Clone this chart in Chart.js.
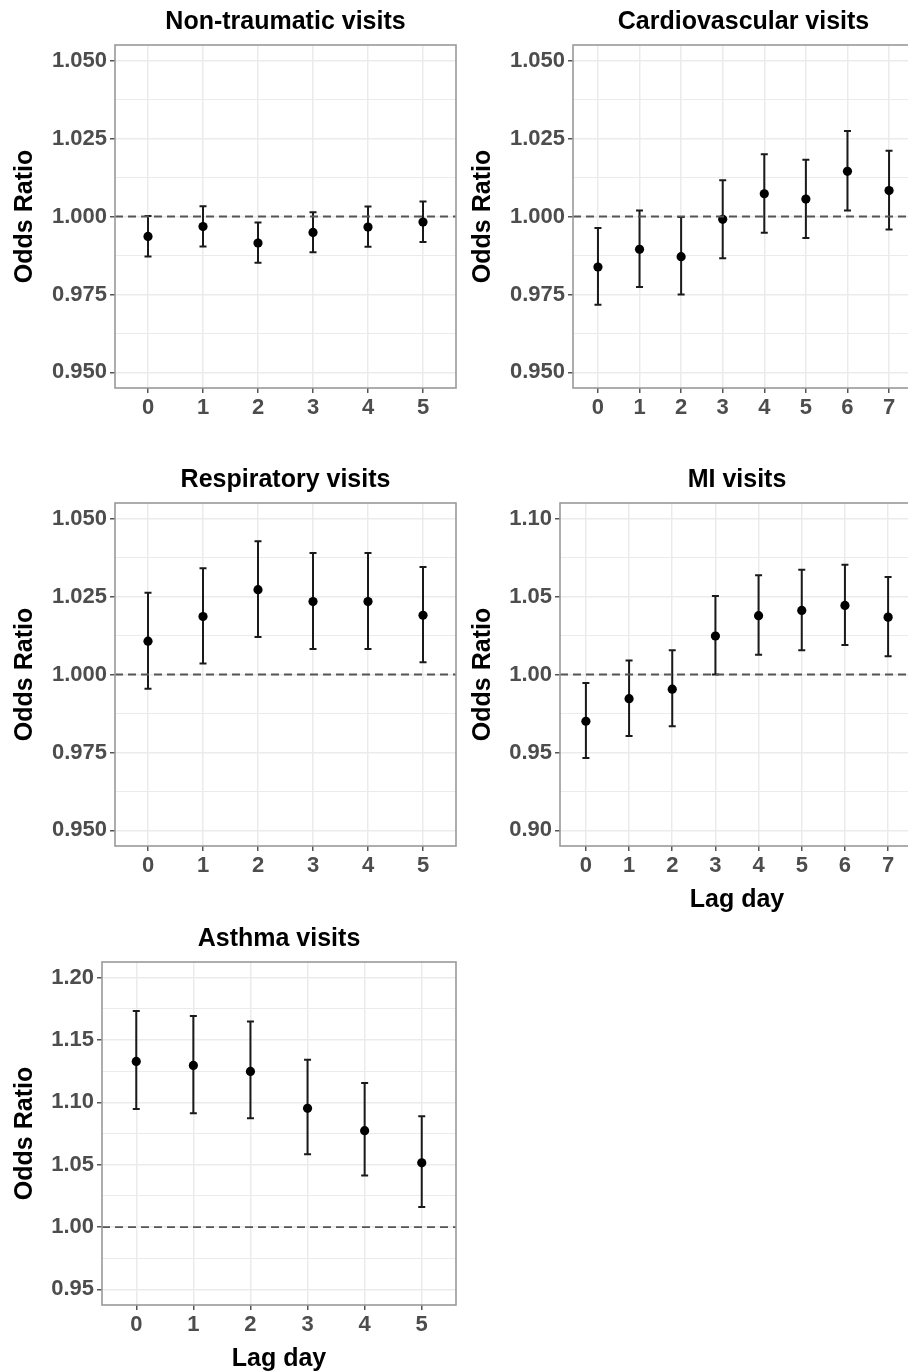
<!DOCTYPE html>
<html lang="en">
<head>
<meta charset="UTF-8">
<title>Odds ratios by lag day</title>
<style>
  body { margin: 0; padding: 0; background: #fff; overflow: hidden; }
  #wrap { position: relative; width: 908px; height: 1371px; overflow: hidden; }
  #wrap canvas { position: absolute; }
</style>
</head>
<body>
<div id="wrap">
  <canvas id="nonTrauma" width="458" height="458" style="left:0;top:0"></canvas>
  <canvas id="cardio" width="458" height="458" style="left:458px;top:0"></canvas>
  <canvas id="resp" width="458" height="458" style="left:0;top:458px"></canvas>
  <canvas id="mi" width="458" height="458" style="left:458px;top:458px"></canvas>
  <canvas id="asthma" width="458" height="458" style="left:0;top:917px"></canvas>
</div>

<script src="https://cdn.jsdelivr.net/npm/chart.js"></script>
<script>
// lag days on the x axis
const lagDays6 = [0, 1, 2, 3, 4, 5];
const lagDays8 = [0, 1, 2, 3, 4, 5, 6, 7];

// odds ratio with 95% CI per outcome
const nonTraumaOR   = [0.9936, 0.9968, 0.9915, 0.9949, 0.9966, 0.9982];
const nonTraumaLow  = [0.9872, 0.9904, 0.9852, 0.9885, 0.9903, 0.9918];
const nonTraumaHigh = [1.0002, 1.0033, 0.9981, 1.0014, 1.0032, 1.0048];

const cardioOR   = [0.9838, 0.9895, 0.9871, 0.9991, 1.0073, 1.0056, 1.0145, 1.0083];
const cardioLow  = [0.9717, 0.9774, 0.9750, 0.9866, 0.9948, 0.9931, 1.0019, 0.9958];
const cardioHigh = [0.9963, 1.0019, 0.9998, 1.0116, 1.0200, 1.0182, 1.0274, 1.0211];

const respOR   = [1.0107, 1.0186, 1.0272, 1.0234, 1.0234, 1.0190];
const respLow  = [0.9954, 1.0035, 1.0120, 1.0082, 1.0082, 1.0039];
const respHigh = [1.0262, 1.0341, 1.0427, 1.0390, 1.0390, 1.0345];

const miOR   = [0.9700, 0.9845, 0.9906, 1.0247, 1.0377, 1.0411, 1.0443, 1.0368];
const miLow  = [0.9464, 0.9606, 0.9668, 1.0000, 1.0126, 1.0155, 1.0189, 1.0117];
const miHigh = [0.9945, 1.0089, 1.0155, 1.0504, 1.0636, 1.0672, 1.0704, 1.0626];

const asthmaOR   = [1.1328, 1.1296, 1.1248, 1.0952, 1.0773, 1.0515];
const asthmaLow  = [1.0947, 1.0912, 1.0872, 1.0584, 1.0413, 1.0160];
const asthmaHigh = [1.1733, 1.1693, 1.1648, 1.1341, 1.1155, 1.0888];

// y axis breaks (labelled) and minor grid lines
const smallMajor = [0.950, 0.975, 1.000, 1.025, 1.050];
const smallMinor = [0.9625, 0.9875, 1.0125, 1.0375];
const miMajor = [0.90, 0.95, 1.00, 1.05, 1.10];
const miMinor = [0.925, 0.975, 1.025, 1.075];
const asthmaMajor = [0.95, 1.00, 1.05, 1.10, 1.15, 1.20];
const asthmaMinor = [0.975, 1.025, 1.075, 1.125, 1.175];

const nullOR = 1;

Chart.defaults.font.family = "'Liberation Sans', Arial, sans-serif";

// error bars + panel frame
const panelDecor = {
  id: 'panelDecor',
  beforeDatasetDraw(chart, args) {
    const ds = chart.data.datasets[args.index];
    if (!ds.lower) return;
    const { ctx, scales: { x, y } } = chart;
    ctx.save();
    ctx.strokeStyle = '#1a1a1a';
    ctx.lineWidth = 2;
    ds.data.forEach((pt, i) => {
      const px = x.getPixelForValue(pt.x);
      const top = y.getPixelForValue(ds.upper[i]);
      const bot = y.getPixelForValue(ds.lower[i]);
      ctx.beginPath();
      ctx.moveTo(px, top); ctx.lineTo(px, bot);
      ctx.moveTo(px - 3.5, top); ctx.lineTo(px + 3.5, top);
      ctx.moveTo(px - 3.5, bot); ctx.lineTo(px + 3.5, bot);
      ctx.stroke();
    });
    ctx.restore();
  },
  afterDraw(chart) {
    const { ctx, chartArea: a } = chart;
    ctx.save();
    ctx.strokeStyle = '#999';
    ctx.lineWidth = 1.6;
    ctx.strokeRect(a.left, a.top, a.right - a.left, a.bottom - a.top);
    ctx.restore();
  }
};

function makePanel(id, title, lags, or, low, high, yRange, majors, minors, decimals, yWidth, showXTitle) {
  const xMin = -0.6, xMax = lags.length - 1 + 0.6;
  const yTicks = majors.concat(minors).sort((a, b) => a - b);
  const isMajor = v => majors.some(m => Math.abs(m - v) < 1e-9);

  new Chart(document.getElementById(id), {
    type: 'scatter',
    data: {
      datasets: [
        {
          data: [{ x: xMin, y: nullOR }, { x: xMax, y: nullOR }],
          showLine: true,
          borderColor: '#555',
          borderWidth: 1.8,
          borderDash: [8, 5],
          pointRadius: 0
        },
        {
          data: lags.map((d, i) => ({ x: d, y: or[i] })),
          lower: low,
          upper: high,
          pointRadius: 4.6,
          backgroundColor: '#000',
          borderWidth: 0
        }
      ]
    },
    options: {
      responsive: false,
      animation: false,
      events: [],
      layout: { autoPadding: false, padding: { left: 0, right: 2, top: 0, bottom: 0 } },
      plugins: {
        legend: { display: false },
        tooltip: { enabled: false },
        title: {
          display: true,
          text: title,
          fullSize: false,
          color: '#000',
          font: { size: 25, weight: 'bold' },
          padding: { top: 7.5, bottom: 7.5 }
        }
      },
      scales: {
        x: {
          type: 'linear',
          min: xMin,
          max: xMax,
          afterBuildTicks: s => { s.ticks = lags.map(v => ({ value: v })); },
          afterFit: s => { s.height = 70; s.paddingLeft = 0; s.paddingRight = 0; },
          ticks: {
            autoSkip: false,
            maxRotation: 0,
            padding: 2,
            color: '#4d4d4d',
            font: { size: 22, weight: 'bold' },
            callback: v => String(v)
          },
          grid: { color: '#ebebeb', lineWidth: 1.5, tickLength: 5, tickColor: '#555', tickWidth: 1.5 },
          border: { display: false },
          title: {
            display: showXTitle,
            text: 'Lag day',
            color: '#000',
            font: { size: 25, weight: 'bold' },
            padding: { top: 0, bottom: 1 }
          }
        },
        y: {
          type: 'linear',
          min: yRange[0],
          max: yRange[1],
          afterBuildTicks: s => { s.ticks = yTicks.map(v => ({ value: v })); },
          afterFit: s => { s.width = yWidth; s.paddingTop = 0; s.paddingBottom = 0; },
          ticks: {
            padding: 3,
            color: '#4d4d4d',
            font: { size: 22, weight: 'bold' },
            callback: v => isMajor(v) ? v.toFixed(decimals) : ''
          },
          grid: {
            color: '#ebebeb',
            lineWidth: c => isMajor(c.tick.value) ? 1.5 : 1,
            tickLength: 5,
            tickWidth: 1.5,
            tickColor: c => isMajor(c.tick.value) ? '#555' : 'rgba(0,0,0,0)'
          },
          border: { display: false },
          title: {
            display: true,
            text: 'Odds Ratio',
            color: '#000',
            font: { size: 25, weight: 'bold' },
            padding: { top: 10.5, bottom: 0 }
          }
        }
      }
    },
    plugins: [panelDecor]
  });
}

makePanel('nonTrauma', 'Non-traumatic visits', lagDays6, nonTraumaOR, nonTraumaLow, nonTraumaHigh,
  [0.945, 1.055], smallMajor, smallMinor, 3, 115, false);
makePanel('cardio', 'Cardiovascular visits', lagDays8, cardioOR, cardioLow, cardioHigh,
  [0.945, 1.055], smallMajor, smallMinor, 3, 115, false);
makePanel('resp', 'Respiratory visits', lagDays6, respOR, respLow, respHigh,
  [0.945, 1.055], smallMajor, smallMinor, 3, 115, false);
makePanel('mi', 'MI visits', lagDays8, miOR, miLow, miHigh,
  [0.89, 1.11], miMajor, miMinor, 2, 102, true);
makePanel('asthma', 'Asthma visits', lagDays6, asthmaOR, asthmaLow, asthmaHigh,
  [0.9375, 1.2125], asthmaMajor, asthmaMinor, 2, 102, true);
</script>
</body>
</html>
